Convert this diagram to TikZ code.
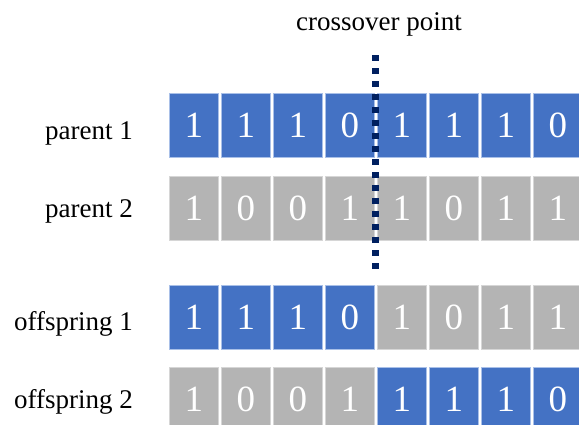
\documentclass[tikz,border=0pt]{standalone}
\usepackage{fontspec}
\setmainfont{Liberation Serif}
\newfontfamily\digitfont{Liberation Serif}
\definecolor{bitblue}{HTML}{4472C4}
\definecolor{bitgray}{HTML}{B4B4B4}
\definecolor{edgeblue}{HTML}{A9C0E8}
\definecolor{edgegray}{HTML}{D6D6D6}
\definecolor{cutnavy}{HTML}{002060}
\begin{document}
\begin{tikzpicture}[x=1pt,y=-1pt,
  bit/.style={minimum width=48.4pt,minimum height=64pt,inner sep=0pt,anchor=north west,
    text=white,font=\digitfont\fontsize{37}{40}\selectfont,line width=0.6pt},
  b/.style={bit,fill=bitblue,draw=edgeblue},
  g/.style={bit,fill=bitgray,draw=edgegray},
  rowlabel/.style={anchor=base east,inner sep=0pt,font=\rmfamily\fontsize{27}{30}\selectfont},
  cut/.style={draw=cutnavy,line width=6.6pt,dash pattern=on 6.4pt off 6.6pt}]
\useasboundingbox (0,0) rectangle (579,424);
\begin{scope}
\clip (0,0) rectangle (579,424);
% row 1: parent 1
\foreach \v/\s [count=\i from 0] in {1/b,1/b,1/b,0/b,1/b,1/b,1/b,0/b}
  \node[\s] (pa\i) at (169.3+52*\i,93.3) {\raisebox{-2pt}{\v}};
% row 2: parent 2
\foreach \v/\s [count=\i from 0] in {1/g,0/g,0/g,1/g,1/g,0/g,1/g,1/g}
  \node[\s] (pb\i) at (169.3+52*\i,175.7) {\raisebox{-2pt}{\v}};
% row 3: offspring 1
\foreach \v/\s [count=\i from 0] in {1/b,1/b,1/b,0/b,1/g,0/g,1/g,1/g}
  \node[\s] (oa\i) at (169.3+52*\i,285.2) {\raisebox{-2pt}{\v}};
% row 4: offspring 2
\foreach \v/\s [count=\i from 0] in {1/g,0/g,0/g,1/g,1/b,1/b,1/b,0/b}
  \node[\s] (ob\i) at (169.3+52*\i,367.4) {\raisebox{-2pt}{\v}};
\end{scope}
\node[rowlabel] (lpa) at (133,139.3) {parent 1};
\node[rowlabel] (lpb) at (133,217.3) {parent 2};
\node[rowlabel] (loa) at (133,330) {offspring 1};
\node[rowlabel] (lob) at (133,408.3) {offspring 2};
\node[anchor=base,inner sep=0pt,font=\rmfamily\fontsize{27}{30}\selectfont] (cp) at (379,30) {crossover point};
\coordinate (ctop) at (375.7,55);
\coordinate (cbot) at (375.7,269);
\draw[cut] (ctop) -- (cbot);
\end{tikzpicture}
\end{document}
